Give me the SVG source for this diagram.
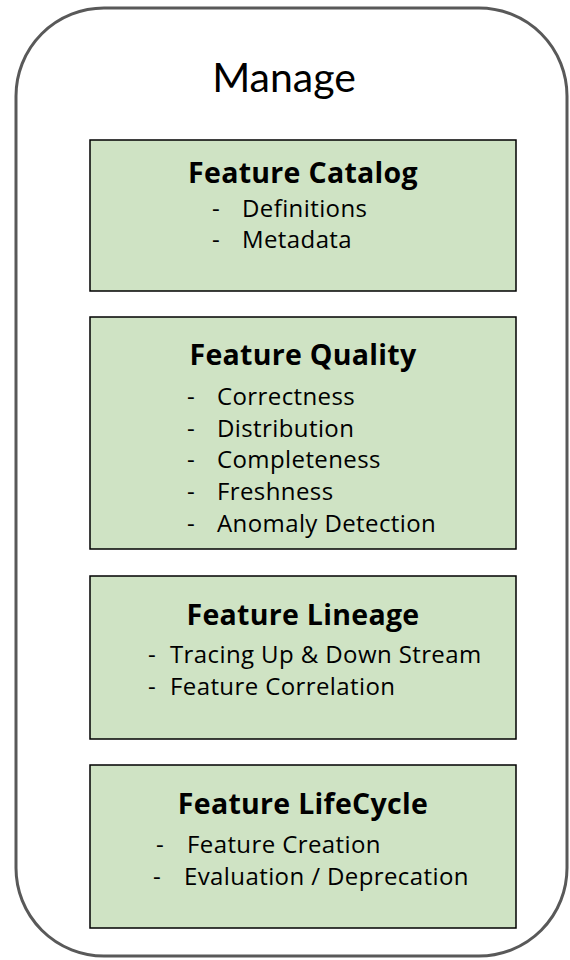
<svg xmlns="http://www.w3.org/2000/svg" width="570" height="960" viewBox="0 0 570 960">
<style>
.box{fill:#cfe3c4;stroke:#000;stroke-width:1.5}
.t{font-family:"Open Sans",Lato,sans-serif;font-weight:700;font-size:28.5px;letter-spacing:0.3px;fill:#000;text-anchor:middle}
.i{font-family:"Open Sans",Lato,sans-serif;font-size:24px;letter-spacing:0.4px;fill:#000}
</style>
<rect id="outer" x="16" y="8" width="551" height="948" rx="88" ry="88" fill="#fff" stroke="#595959" stroke-width="3"/>
<text x="284" y="92" font-family="Lato,'Open Sans',sans-serif" font-size="41" text-anchor="middle" fill="#000">Manage</text>
<g id="catalog">
<rect class="box" x="90" y="140" width="426" height="151"/>
<text class="t" x="303" y="183">Feature Catalog</text>
<text class="i" x="212" y="217">-</text><text class="i" x="242" y="217">Definitions</text>
<text class="i" x="212" y="248">-</text><text class="i" x="242" y="248">Metadata</text>
</g>
<g id="quality">
<rect class="box" x="90" y="317" width="426" height="232"/>
<text class="t" x="303" y="365">Feature Quality</text>
<text class="i" x="187" y="405">-</text><text class="i" x="217" y="405">Correctness</text>
<text class="i" x="187" y="437">-</text><text class="i" x="217" y="437">Distribution</text>
<text class="i" x="187" y="468">-</text><text class="i" x="217" y="468">Completeness</text>
<text class="i" x="187" y="500">-</text><text class="i" x="217" y="500">Freshness</text>
<text class="i" x="187" y="532">-</text><text class="i" x="217" y="532">Anomaly Detection</text>
</g>
<g id="lineage">
<rect class="box" x="90" y="576" width="426" height="163"/>
<text class="t" x="303" y="625">Feature Lineage</text>
<text class="i" x="148" y="663">-</text><text class="i" x="170" y="663">Tracing Up &amp; Down Stream</text>
<text class="i" x="148" y="695">-</text><text class="i" x="170" y="695">Feature Correlation</text>
</g>
<g id="lifecycle">
<rect class="box" x="90" y="765" width="426" height="163"/>
<text class="t" x="303" y="814">Feature LifeCycle</text>
<text class="i" x="156" y="853">-</text><text class="i" x="187" y="853">Feature Creation</text>
<text class="i" x="153" y="885">-</text><text class="i" x="184" y="885">Evaluation / Deprecation</text>
</g>
<g id="connectors"></g>
</svg>
